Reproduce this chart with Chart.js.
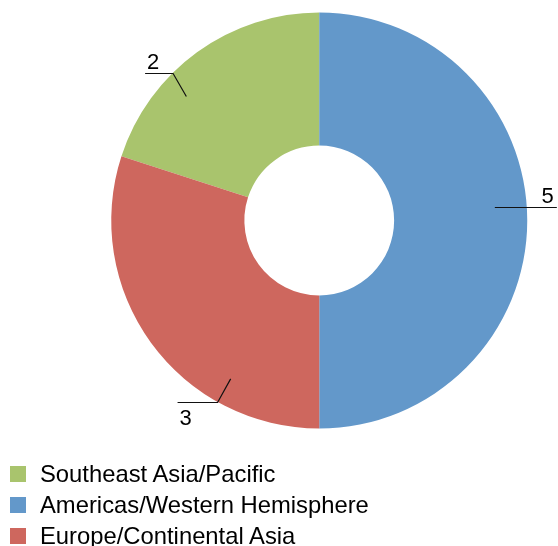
<!DOCTYPE html>
<html>
<head>
<title>Regions</title>
<script src="https://cdn.jsdelivr.net/npm/chart.js"></script>
<style>
  body { margin: 0; background: #fff; font-family: "Liberation Sans", Arial, sans-serif; }
  #wrap { position: relative; width: 558px; height: 546px; }
  #regionChart { position: absolute; left: 0; top: 0; }
  #legend { position: absolute; left: 0; top: 458px; }
  .row { display: flex; align-items: center; height: 31px; font-size: 23.8px; color: #000; }
  .box { width: 16px; height: 16px; margin-left: 10px; margin-right: 14px; }
</style>
</head>
<body>
<div id="wrap">
  <canvas id="regionChart" width="558" height="546"></canvas>
  <div id="legend"></div>
</div>
<script>
// data, in legend order
const regions = ['Southeast Asia/Pacific', 'Americas/Western Hemisphere', 'Europe/Continental Asia'];
const counts = [2, 5, 3];
const colors = ['#a9c46d', '#6398ca', '#ce675e'];

// leader lines: elbow position along the slice (0..1), inner tick direction (deg) and length, flat part length
const leaderAt = [0.38, 0.48, 0.271];
const tickDir = [60, 180, -61];
const tickLen = [26.5, 32, 27];
const leaderLen = [28, 30, 40];

// legend as html so it can sit flush left under the pie
const legend = document.getElementById('legend');
regions.forEach((name, i) => {
    const row = document.createElement('div');
    row.className = 'row';
    row.innerHTML = '<span class="box" style="background:' + colors[i] + '"></span>' + name;
    legend.appendChild(row);
});

const leaderLabels = {
    id: 'leaderLabels',
    afterDatasetsDraw(chart) {
        const ctx = chart.ctx;
        const meta = chart.getDatasetMeta(0);
        ctx.save();
        ctx.strokeStyle = '#111';
        ctx.lineWidth = 1.2;
        ctx.fillStyle = '#000';
        ctx.font = '22px "Liberation Sans", Arial, sans-serif';
        meta.data.forEach((arc, i) => {
            const p = arc.getProps(['x', 'y', 'startAngle', 'endAngle', 'outerRadius'], true);
            const a = p.startAngle + leaderAt[i] * (p.endAngle - p.startAngle);
            const x1 = p.x + Math.cos(a) * p.outerRadius;
            const y1 = Math.round(p.y + Math.sin(a) * p.outerRadius) + 0.5;
            const d = tickDir[i] * Math.PI / 180;
            const x0 = x1 + Math.cos(d) * tickLen[i];
            const y0 = y1 + Math.sin(d) * tickLen[i];
            const side = Math.cos(a) >= 0 ? 1 : -1;
            const x2 = x1 + side * leaderLen[i];
            ctx.beginPath();
            ctx.moveTo(x0, y0);
            ctx.lineTo(x1, y1);
            ctx.lineTo(x2, y1);
            ctx.stroke();
            const below = Math.sin(a) > 0.3;
            ctx.textAlign = side > 0 ? 'right' : 'left';
            ctx.textBaseline = 'alphabetic';
            const tx = side > 0 ? x2 - 3 : x2 + 2;
            const ty = below ? y1 + 22 : y1 - 5;
            ctx.fillText(String(counts[i]), tx, ty);
        });
        ctx.restore();
    }
};

new Chart(document.getElementById('regionChart'), {
    type: 'doughnut',
    data: {
        labels: regions,
        datasets: [{
            data: counts,
            backgroundColor: colors,
            borderWidth: 0
        }]
    },
    options: {
        responsive: false,
        animation: false,
        rotation: -72,
        cutout: '36%',
        layout: { padding: { left: 80.5, right: 0, top: 12.5, bottom: 117.5 } },
        plugins: {
            legend: { display: false },
            tooltip: { enabled: false }
        }
    },
    plugins: [leaderLabels]
});
</script>
</body>
</html>
